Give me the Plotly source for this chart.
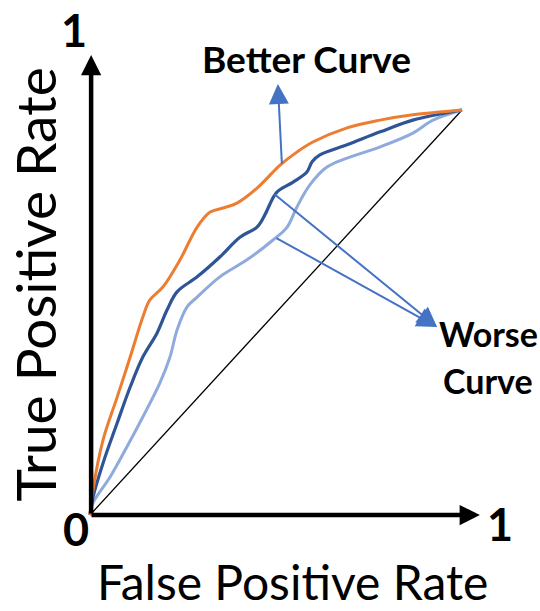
import plotly.graph_objects as go

# ---- data ----
fpr_better = [0, 0.008, 0.035, 0.073, 0.108, 0.142, 0.161, 0.196, 0.242, 0.288, 0.323, 0.358, 0.395,
              0.449, 0.511, 0.556, 0.599, 0.691, 0.780, 0.868, 1.0]
tpr_better = [0, 0.062, 0.185, 0.291, 0.390, 0.489, 0.531, 0.563, 0.630, 0.711, 0.748, 0.758, 0.770,
              0.807, 0.864, 0.896, 0.921, 0.956, 0.975, 0.988, 1.0]

fpr_mid = [0, 0.008, 0.035, 0.073, 0.108, 0.142, 0.180, 0.207, 0.234, 0.288, 0.349, 0.403, 0.449,
           0.470, 0.489, 0.503, 0.546, 0.583, 0.597, 0.618, 0.691, 0.780, 0.868, 1.0]
tpr_mid = [0, 0.044, 0.128, 0.227, 0.316, 0.390, 0.449, 0.506, 0.551, 0.588, 0.637, 0.686, 0.711,
           0.741, 0.778, 0.798, 0.822, 0.847, 0.872, 0.889, 0.914, 0.946, 0.975, 1.0]

fpr_worse = [0, 0.008, 0.054, 0.099, 0.142, 0.188, 0.215, 0.234, 0.261, 0.288, 0.349, 0.422, 0.492,
             0.530, 0.556, 0.591, 0.637, 0.691, 0.780, 0.868, 0.922, 1.0]
tpr_worse = [0, 0.030, 0.094, 0.168, 0.242, 0.326, 0.390, 0.457, 0.514, 0.538, 0.588, 0.630, 0.679,
             0.711, 0.760, 0.815, 0.859, 0.881, 0.909, 0.943, 0.975, 1.0]

fpr_diag = [0, 1]
tpr_diag = [0, 1]

x_tick_labels = ["0", "1"]
y_tick_labels = ["1"]

ORANGE = "#ED7D31"
DARK_BLUE = "#2F5597"
LIGHT_BLUE = "#8FAADC"
ARROW_BLUE = "#4472C4"
FONT = "Lato, 'Open Sans', sans-serif"

fig = go.Figure()
fig.add_trace(go.Scatter(x=fpr_diag, y=tpr_diag, mode="lines",
                         line=dict(color="black", width=1.3), hoverinfo="skip"))
fig.add_trace(go.Scatter(x=fpr_worse, y=tpr_worse, mode="lines",
                         line=dict(color=LIGHT_BLUE, width=3, shape="spline", smoothing=1.0)))
fig.add_trace(go.Scatter(x=fpr_mid, y=tpr_mid, mode="lines",
                         line=dict(color=DARK_BLUE, width=3.2, shape="spline", smoothing=1.0)))
fig.add_trace(go.Scatter(x=fpr_better, y=tpr_better, mode="lines",
                         line=dict(color=ORANGE, width=3, shape="spline", smoothing=1.0)))

ann = []
# axes drawn as arrows
ann.append(dict(x=0.003, y=1.136, ax=0.003, ay=0, xref="x", yref="y", axref="x", ayref="y",
                text="", showarrow=True, arrowhead=2, arrowsize=0.9, arrowwidth=4.5,
                arrowcolor="black", standoff=0, startstandoff=0))
ann.append(dict(x=1.048, y=0, ax=0, ay=0, xref="x", yref="y", axref="x", ayref="y",
                text="", showarrow=True, arrowhead=2, arrowsize=0.9, arrowwidth=4.5,
                arrowcolor="black", standoff=0, startstandoff=0))
# pointer arrows
ann.append(dict(x=0.505, y=1.064, ax=0.516, ay=0.864, xref="x", yref="y", axref="x", ayref="y",
                text="", showarrow=True, arrowhead=2, arrowsize=2, arrowwidth=2,
                arrowcolor=ARROW_BLUE, standoff=0))
ann.append(dict(x=0.933, y=0.464, ax=0.492, ay=0.795, xref="x", yref="y", axref="x", ayref="y",
                text="", showarrow=True, arrowhead=2, arrowsize=2, arrowwidth=2,
                arrowcolor=ARROW_BLUE, standoff=0))
ann.append(dict(x=0.933, y=0.464, ax=0.497, ay=0.686, xref="x", yref="y", axref="x", ayref="y",
                text="", showarrow=True, arrowhead=2, arrowsize=2, arrowwidth=2,
                arrowcolor=ARROW_BLUE, standoff=0))

# tick labels
bold_big = dict(family=FONT, size=45, color="black", weight="bold")
ann.append(dict(x=-0.038, y=-0.035, xref="x", yref="y", text=f"<b>{x_tick_labels[0]}</b>",
                showarrow=False, font=bold_big, xanchor="center", yanchor="middle"))
ann.append(dict(x=1.102, y=-0.022, xref="x", yref="y", text=f"<b>{x_tick_labels[1]}</b>",
                showarrow=False, font=bold_big, xanchor="center", yanchor="middle"))
ann.append(dict(x=-0.043, y=1.198, xref="x", yref="y", text=f"<b>{y_tick_labels[0]}</b>",
                showarrow=False, font=bold_big, xanchor="center", yanchor="middle"))

# labels
lab = dict(family=FONT, size=37, color="black")
ann.append(dict(x=0.581, y=1.128, xref="x", yref="y", text="<b>Better Curve</b>",
                showarrow=False, font=lab, xanchor="center", yanchor="middle"))
lab2 = dict(family=FONT, size=34, color="black")
ann.append(dict(x=1.07, y=0.447, xref="x", yref="y", text="<b>Worse</b>",
                showarrow=False, font=lab2, xanchor="center", yanchor="middle"))
ann.append(dict(x=1.07, y=0.331, xref="x", yref="y", text="<b>Curve</b>",
                showarrow=False, font=lab2, xanchor="center", yanchor="middle"))

# axis titles
ann.append(dict(x=0.543, y=-0.163, xref="x", yref="y", text="False Positive Rate",
                showarrow=False, font=dict(family=FONT, size=48, color="black"),
                xanchor="center", yanchor="middle"))
ann.append(dict(x=-0.149, y=0.568, xref="x", yref="y", text="True Positive Rate",
                showarrow=False, font=dict(family=FONT, size=55, color="black"), textangle=-90,
                xanchor="center", yanchor="middle"))

fig.update_layout(
    width=540, height=611,
    margin=dict(l=0, r=0, t=0, b=0),
    paper_bgcolor="white", plot_bgcolor="white",
    showlegend=False,
    xaxis=dict(range=[-0.24194, 1.20968], visible=False, fixedrange=True),
    yaxis=dict(range=[-0.23704, 1.27160], visible=False, fixedrange=True),
    annotations=ann,
)

# remove the default 8px page margin so the figure fills the window exactly
fig.write_html("out.html", config={"displayModeBar": False},
               post_script="document.body.style.margin='0px';")
